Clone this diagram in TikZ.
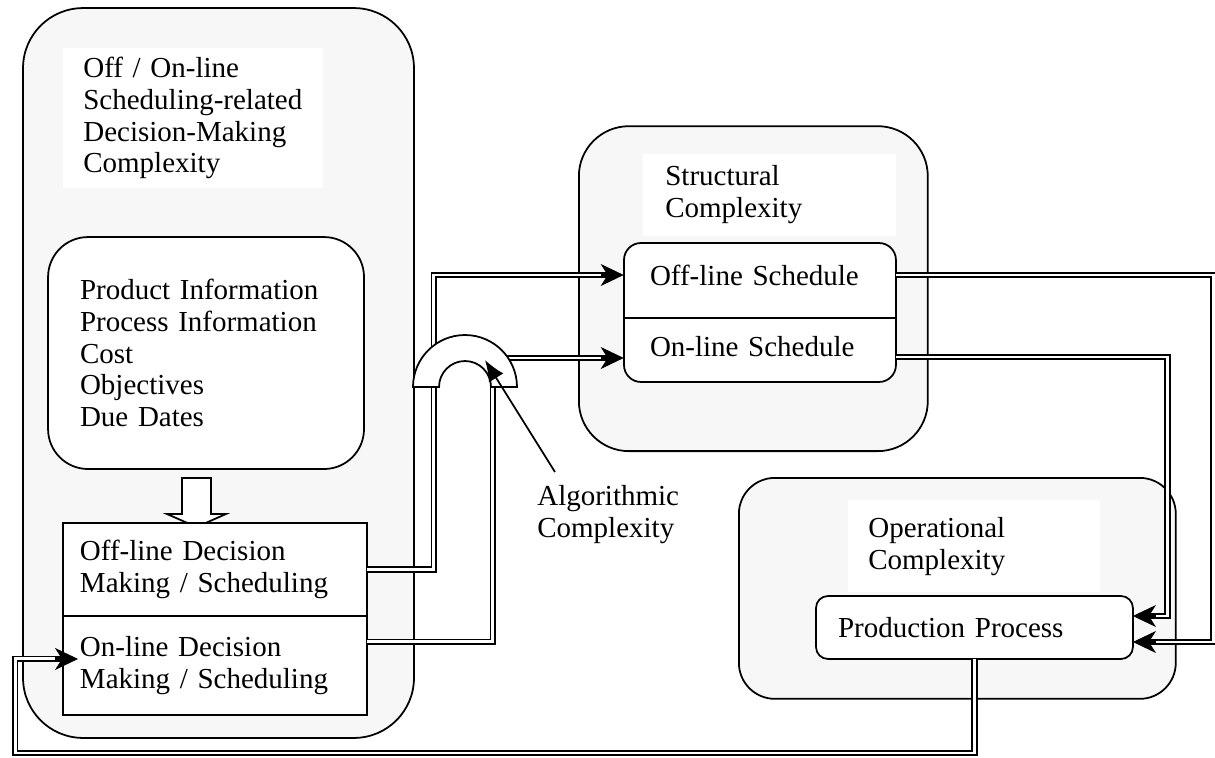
\documentclass[tikz,border=0pt]{standalone}
\usepackage{fontspec}
\setmainfont{Liberation Serif}
\usetikzlibrary{arrows.meta, positioning}
\definecolor{paneltint}{RGB}{247,247,247}

\begin{document}
\begin{tikzpicture}[
	x=0.02cm, y=-0.02cm,
	font=\fontsize{16.5}{18}\selectfont,
	panel/.style={draw, line width=1pt, fill=paneltint, rounded corners=#1},
	panel/.default=1.2cm,
	titlebox/.style={fill=white, align=left, inner xsep=0.4cm, inner ysep=0pt},
	block/.style={draw, line width=1pt, fill=white, align=left, inner ysep=0pt, outer sep=0pt},
	rowtext/.style={align=left, text width=4.4cm, inner xsep=0.52cm, inner ysep=0pt},
	link/.style={line width=3.8pt, -{Stealth[length=0.46cm, width=0.44cm, inset=0.14cm, line width=0.4pt]},
		postaction={draw=white, line width=1.7pt, arrows=-, shorten >=0.46cm}},
	pointer/.style={line width=1pt, -{Latex[length=0.42cm, width=0.34cm]}}
]
	\useasboundingbox (0,0) rectangle (1215,758);

	% Decision-making side
	\node[panel, minimum width=7.82cm, minimum height=14.6cm] (decpanel) at (218.5,373) {};
	\node[titlebox, text width=4.4cm, minimum height=2.8cm, anchor=north west] (dectitle) at (63,48) {Off / On-line\\Scheduling-related\\Decision-Making\\Complexity};
	\node[block, rounded corners=0.8cm, text width=5.04cm, inner xsep=0.64cm, minimum height=4.64cm, anchor=south east] (info) at (364,469) {Product Information\\Process Information\\Cost\\Objectives\\Due Dates};
	\draw[line width=1pt, fill=white] (182,478) -- (211,478) -- (211,514) -- (226,514) -- (196.5,527) -- (167,514) -- (182,514) -- cycle;
	\node[block, text width=5.4cm, inner xsep=0.34cm, minimum height=1.86cm, anchor=north west] (offdec) at (63,523) {Off-line Decision\\Making / Scheduling};
	\node[block, text width=5.4cm, inner xsep=0.34cm, minimum height=1.98cm, below=0pt of offdec] (ondec) {On-line Decision\\Making / Scheduling};

	% Structural complexity
	\node[panel=1cm, minimum width=6.98cm, minimum height=6.5cm, anchor=south west] (structpanel) at (578,452) {};
	\node[titlebox, text width=4.18cm, inner xsep=0.44cm, minimum height=1.64cm, anchor=south west] (structtitle) at (643,236) {Structural\\Complexity};
	\node[block, rounded corners=0.34cm, minimum width=5.44cm, minimum height=2.78cm, anchor=north west] (sched) at (624,243) {};
	\node[rowtext] (offsched) at (760,275) {Off-line Schedule};
	\node[rowtext] (onsched) at (760,347) {On-line Schedule};
	\draw[line width=1pt] ([yshift=-1.5cm]sched.north west) -- ([yshift=-1.5cm]sched.north east);

	% Operational complexity
	\node[panel=0.72cm, minimum width=8.74cm, minimum height=4.42cm, anchor=north west] (operpanel) at (738,477) {};
	\node[titlebox, text width=4.24cm, minimum height=1.84cm, anchor=north west] (opertitle) at (848,500) {Operational\\Complexity};
	\node[block, rounded corners=0.24cm, text width=5.46cm, inner xsep=0.44cm, minimum height=1.26cm, anchor=north west] (prod) at (816,596) {Production Process};

	% Algorithmic complexity
	\node[inner sep=0pt, align=left, anchor=north west] (algo) at (537,485) {Algorithmic\\Complexity};
	\coordinate (bridge) at (465,387);

	% Links
	\draw[link] (offdec.east) -- ++(67,0) |- (offsched.west);
	\draw[link] ([yshift=0.47cm]ondec.east) -- ++(126,0) |- ([yshift=-0.22cm]onsched.west);
	\draw[link] (offsched.east) -- ++(317,0) |- ([yshift=-0.29cm]prod.east);
	\draw[link] ([yshift=-0.2cm]onsched.east) -- ++(271,0) |- ([yshift=0.23cm]prod.east);
	\draw[link] (prod.south) -- ++(0,94) -| ([xshift=-0.96cm, yshift=0.13cm]ondec.west) -- ([xshift=0.3cm, yshift=0.13cm]ondec.west);

	% Bridge over the links
	\draw[line width=1pt, fill=white] ([xshift=-1.04cm]bridge) arc[start angle=180, end angle=0, radius=1.04cm] -- ([xshift=0.52cm]bridge) arc[start angle=0, end angle=180, radius=0.52cm] -- cycle;
	\draw[pointer] ([xshift=0.36cm, yshift=0.26cm]algo.north west) -- ([xshift=0.4cm, yshift=0.54cm]bridge);
\end{tikzpicture}
\end{document}
